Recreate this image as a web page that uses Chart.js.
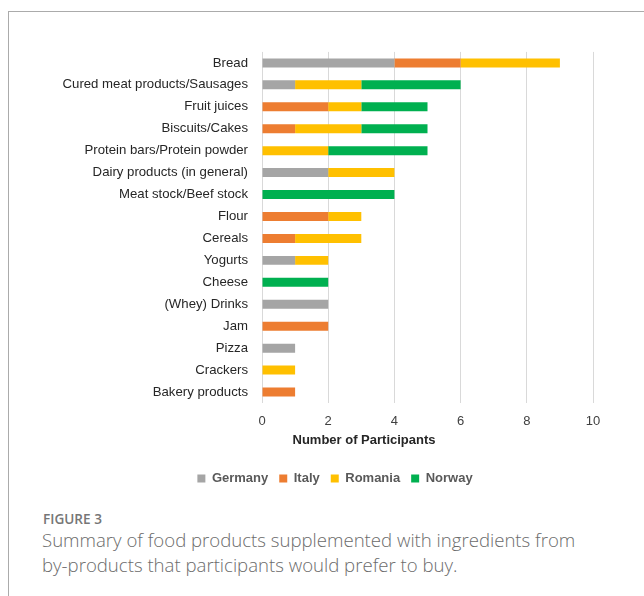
<!DOCTYPE html>
<html>
<head>
<meta charset="utf-8">
<script src="https://cdn.jsdelivr.net/npm/chart.js@4/dist/chart.umd.min.js"></script>
<style>
  html, body { margin: 0; padding: 0; background: #fff; }
  body { width: 644px; height: 596px; position: relative; overflow: hidden; }
  #frame { position: absolute; left: 8px; top: 11px; width: 700px; height: 700px;
           border-left: 1px solid #ababab; border-top: 1px solid #ababab; }
  #wrap { position: absolute; left: 42px; top: 30px; width: 586px; height: 470px; }
  #wrap canvas { display: block; }
  #cap1 { position: absolute; left: 43px; top: 509px; font-family: "Open Sans", sans-serif;
          font-size: 13.6px; font-weight: 600; color: #767676; }
  #cap2 { position: absolute; left: 42px; top: 528px; width: 602px; font-family: "Open Sans", sans-serif;
          font-size: 18.6px; font-weight: 300; line-height: 24.5px; color: #6b6b6b; white-space: nowrap; }
</style>
</head>
<body>
<div id="frame"></div>
<div id="wrap"><canvas id="c" width="586" height="470"></canvas></div>
<div id="cap1">FIGURE 3</div>
<div id="cap2">Summary of food products supplemented with ingredients from<br>by-products that participants would prefer to buy.</div>
<script>
const categories = ["Bread", "Cured meat products/Sausages", "Fruit juices", "Biscuits/Cakes",
  "Protein bars/Protein powder", "Dairy products (in general)", "Meat stock/Beef stock", "Flour",
  "Cereals", "Yogurts", "Cheese", "(Whey) Drinks", "Jam", "Pizza", "Crackers", "Bakery products"];
const germany = [4, 1, 0, 0, 0, 2, 0, 0, 0, 1, 0, 2, 0, 1, 0, 0];
const italy   = [2, 0, 2, 1, 0, 0, 0, 2, 1, 0, 0, 0, 2, 0, 0, 1];
const romania = [3, 2, 1, 2, 2, 2, 0, 1, 2, 1, 0, 0, 0, 0, 1, 0];
const norway  = [0, 3, 2, 2, 3, 0, 4, 0, 0, 0, 2, 0, 0, 0, 0, 0];
const xTicks = [0, 2, 4, 6, 8, 10];
const xTitle = "Number of Participants";

Chart.defaults.font.family = "'Liberation Sans', Arial, sans-serif";
Chart.defaults.font.size = 13;

const axisTitlePlugin = {
  id: 'axisTitle',
  afterLayout(chart) {
    // centre the legend across the whole canvas width
    if (chart.legend) { chart.legend.left = 0; chart.legend.right = chart.width; chart.legend.width = chart.width; }
  },
  afterDraw(chart) {
    const ctx = chart.ctx, a = chart.chartArea;
    ctx.save();
    ctx.font = "bold 13px 'Liberation Sans', Arial, sans-serif";
    ctx.fillStyle = '#262626';
    ctx.textAlign = 'center';
    ctx.textBaseline = 'middle';
    ctx.fillText(xTitle, a.left + 102, a.bottom + 37);
    ctx.restore();
  }
};

const mk = (label, data, color) => ({
  label, data, backgroundColor: color, borderWidth: 0,
  barPercentage: 0.41, categoryPercentage: 1.0
});

new Chart(document.getElementById('c'), {
  type: 'bar',
  data: {
    labels: categories,
    datasets: [
      mk('Germany', germany, '#A5A5A5'),
      mk('Italy', italy, '#ED7D31'),
      mk('Romania', romania, '#FFC000'),
      mk('Norway', norway, '#00B050')
    ]
  },
  options: {
    indexAxis: 'y',
    responsive: false,
    animation: false,
    layout: { padding: { top: 18, right: 35, left: 0, bottom: 5 } },
    scales: {
      x: {
        stacked: true, min: 0, max: 10,
        afterBuildTicks(s) { s.ticks = xTicks.map(v => ({ value: v })); },
        afterFit(s) { s.height = 58; },
        grid: { color: '#d9d9d9', lineWidth: 1, drawTicks: false },
        border: { display: false },
        ticks: { color: '#404040', padding: 11, font: { size: 13 } }
      },
      y: {
        stacked: true,
        afterFit(s) { s.width = 220; },
        grid: { display: false, drawTicks: false },
        border: { display: false },
        ticks: { color: '#262626', padding: 14, autoSkip: false, font: { size: 13.2 } }
      }
    },
    plugins: {
      legend: {
        position: 'bottom',
        labels: { boxWidth: 8, boxHeight: 8, padding: 11, color: '#595959',
                  font: { size: 13, weight: 'bold' } }
      },
      tooltip: { enabled: false }
    }
  },
  plugins: [axisTitlePlugin]
});
</script>
</body>
</html>
